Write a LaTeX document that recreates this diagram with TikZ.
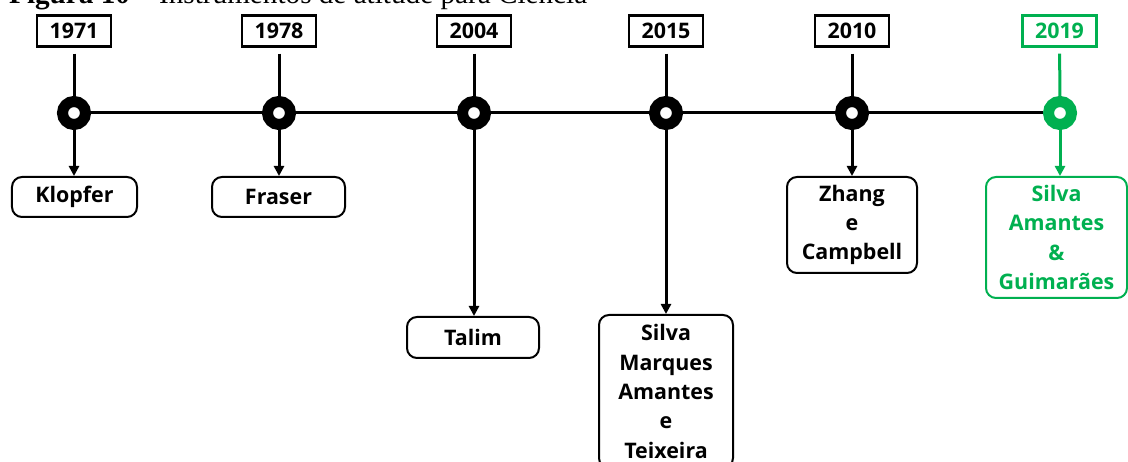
\documentclass[tikz,border=0pt]{standalone}
\usepackage{fontspec}
\setmainfont{Liberation Serif}
\newfontfamily\boxfont{Open Sans}
\usetikzlibrary{arrows.meta}
\definecolor{tlgreen}{RGB}{0,176,80}

\begin{document}
\begin{tikzpicture}[x=1bp,y=-1bp,
  yearbox/.style={draw, line width=2.2bp, minimum width=74bp, minimum height=31bp,
    inner sep=0, font=\boxfont\bfseries\fontsize{21.5}{24}\selectfont},
  dot/.style={circle, draw, line width=11bp, fill=white, minimum size=23bp, inner sep=0},
  author/.style={draw, line width=2bp, rounded corners=10bp, align=center, inner sep=0,
    font=\boxfont\bfseries\fontsize{21.5}{29.5}\selectfont},
  stem/.style={line width=3bp, shorten <=6bp},
  drop/.style={line width=3bp, -{Triangle[length=10bp,width=10bp]}},
  axis/.style={line width=3bp}]

\useasboundingbox (0,0) rectangle (1128,462);

% caption line (cut at the top edge)
\node[anchor=base west, inner sep=0, font=\fontsize{29.3}{31}\selectfont] (caption) at (9,4)
  {\textbf{Figura 10} – Instrumentos de atitude para Ciência};

% years
\node[yearbox] (y1971) at (74,31) {1971};
\node[yearbox] (y1978) at (279,31) {1978};
\node[yearbox] (y2004) at (474,31) {2004};
\node[yearbox] (y2015) at (666,31) {2015};
\node[yearbox] (y2010) at (852,31) {2010};
\node[yearbox, draw=tlgreen, text=tlgreen] (y2019) at (1059.5,31) {2019};

% timeline markers
\node[dot] (d1971) at (74,113) {};
\node[dot] (d1978) at (279,113) {};
\node[dot] (d2004) at (474,113) {};
\node[dot] (d2015) at (666,113) {};
\node[dot] (d2010) at (852,113) {};
\node[dot, draw=tlgreen] (d2019) at (1060,113) {};

% authors
\node[author, minimum width=125bp, minimum height=40bp] (a1971) at (74.5,197) {Klopfer};
\node[author, minimum width=133bp, minimum height=40bp] (a1978) at (278.5,197) {Fraser};
\node[author, minimum width=132bp, minimum height=41bp] (a2004) at (473,337.5) {Talim};
\node[author, minimum width=134bp, minimum height=153bp] (a2015) at (666,391.5)
  {Silva\\Marques\\Amantes\\e\\Teixeira};
\node[author, minimum width=130bp, minimum height=96bp] (a2010) at (852,225)
  {Zhang\\e\\Campbell};
\node[author, draw=tlgreen, text=tlgreen, minimum width=141bp, minimum height=121bp] (a2019)
  at (1056.5,237.5) {Silva\\Amantes\\\&\\Guimarães};

% axis
\draw[axis] (d1971) -- (d1978);
\draw[axis] (d1978) -- (d2004);
\draw[axis] (d2004) -- (d2015);
\draw[axis] (d2015) -- (d2010);
\draw[axis] (d2010) -- (d2019);

% year stems and drops
\foreach \y in {1971,1978,2004,2015,2010}{
  \draw[stem] (y\y) -- (d\y);
  \draw[drop] (d\y) -- (d\y |- a\y.north);
}
\draw[stem, draw=tlgreen] (y2019) -- (d2019);
\draw[drop, draw=tlgreen, fill=tlgreen] (d2019) -- (d2019 |- a2019.north);
\end{tikzpicture}
\end{document}
